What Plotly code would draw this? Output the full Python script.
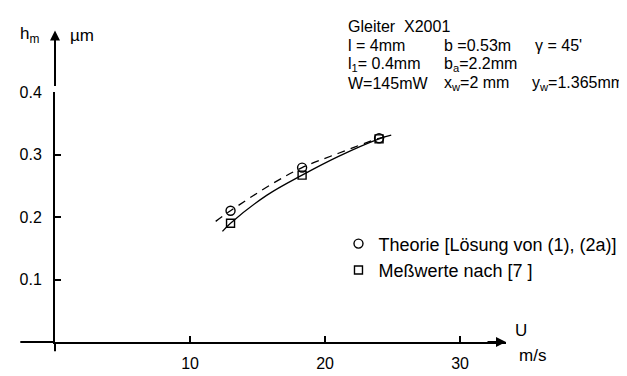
import plotly.graph_objects as go

# ---- data ----
theory_u = [13.0, 18.3, 24.0]
theory_h = [0.210, 0.279, 0.326]
meas_u = [13.0, 18.3, 24.0]
meas_h = [0.190, 0.267, 0.325]

theory_curve_u = [11.9, 13.0, 16.0, 18.3, 21.0, 24.0, 24.6]
theory_curve_h = [0.193, 0.210, 0.252, 0.279, 0.302, 0.326, 0.329]
meas_curve_u = [12.4, 13.0, 15.7, 18.3, 21.0, 24.0, 24.9]
meas_curve_h = [0.177, 0.190, 0.235, 0.267, 0.297, 0.325, 0.331]

x_ticks = [10, 20, 30]
y_ticks = [0.1, 0.2, 0.3, 0.4]

FONT = "Liberation Sans"

# plot-area geometry (pixels) for placing free text
L, R, T, B = 43, 498, 84, 352
W, H = R - L, B - T

def px(x):
    return (x - L) / W

def py(y):
    return (B - y) / H

fig = go.Figure()
fig.add_trace(go.Scatter(x=theory_curve_u, y=theory_curve_h, mode="lines",
                         line=dict(color="black", width=1.3, dash="8px,6px", shape="spline"),
                         showlegend=False, hoverinfo="skip"))
fig.add_trace(go.Scatter(x=meas_curve_u, y=meas_curve_h, mode="lines",
                         line=dict(color="black", width=1.3, shape="spline"),
                         showlegend=False, hoverinfo="skip"))
fig.add_trace(go.Scatter(x=theory_u, y=theory_h, mode="markers",
                         name="Theorie [Lösung von (1), (2a)]",
                         marker=dict(symbol="circle-open", size=9, color="black",
                                     line=dict(width=1.4, color="black"))))
fig.add_trace(go.Scatter(x=meas_u, y=meas_h, mode="markers",
                         name="Meßwerte nach [7 ]",
                         marker=dict(symbol="square-open", size=8, color="black",
                                     line=dict(width=1.4, color="black"))))

fig.update_xaxes(range=[0, 33.4], tickvals=x_ticks, ticktext=[str(v) for v in x_ticks],
                 showline=True, linecolor="black", linewidth=2,
                 ticks="inside", ticklen=6, tickwidth=1.5, tickcolor="black",
                 ticklabelstandoff=6,
                 showgrid=False, zeroline=False, tickfont=dict(family=FONT, size=16, color="black"))
fig.update_yaxes(range=[0, 0.4], tickvals=y_ticks, ticktext=[f"{v:.1f}" for v in y_ticks],
                 showline=True, linecolor="black", linewidth=2,
                 ticks="inside", ticklen=6, tickwidth=1.5, tickcolor="black",
                 ticklabelstandoff=8,
                 showgrid=False, zeroline=False, tickfont=dict(family=FONT, size=16, color="black"))

# axis extensions beyond the origin
fig.add_shape(type="line", xref="paper", yref="paper", x0=px(8), x1=0, y0=0, y1=0,
              line=dict(color="black", width=2))
fig.add_shape(type="line", xref="paper", yref="paper", x0=0, x1=0, y0=py(362), y1=0,
              line=dict(color="black", width=2))

# arrows
fig.add_annotation(xref="paper", yref="paper", x=0, y=py(18), ax=0, ay=57,
                   axref="pixel", ayref="pixel", text="", showarrow=True,
                   arrowhead=2, arrowsize=1, arrowwidth=2, arrowcolor="black")
fig.add_annotation(xref="paper", yref="paper", x=1, y=0, ax=-20, ay=0,
                   text="", showarrow=True,
                   arrowhead=2, arrowsize=1, arrowwidth=2, arrowcolor="black")

def txt(x, y, s, anchor="left", size=16):
    fig.add_annotation(xref="paper", yref="paper", x=px(x), y=py(y), text=s,
                       showarrow=False, xanchor=anchor, yanchor="middle",
                       font=dict(family=FONT, size=size, color="black"))

txt(17, 23, "h<sub>m</sub>", "center", 17)
txt(70, 23, "µm", "center", 17)
txt(513, 340, "U", "center", 17)
txt(525, 367, "m/s", "center", 17)

txt(337, 14, "Gleiter  X2001")
txt(337, 34, "l = 4mm")
txt(433, 34, "b =0.53m")
txt(525, 34, "γ = 45'")
txt(337, 54, "l<sub>1</sub>= 0.4mm")
txt(433, 54, "b<sub>a</sub>=2.2mm")
txt(337, 75, "W=145mW")
txt(433, 75, "x<sub>w</sub>=2 mm")
txt(522, 75, "y<sub>w</sub>=1.365mm")

fig.update_layout(
    width=627, height=376,
    margin=dict(l=L, r=627 - R, t=T, b=376 - B),
    paper_bgcolor="white", plot_bgcolor="white",
    font=dict(family=FONT, size=16, color="black"),
    showlegend=True,
    legend=dict(x=px(329), y=py(227), xanchor="left", yanchor="top",
                bgcolor="rgba(0,0,0,0)", font=dict(family=FONT, size=18, color="black"),
                itemwidth=30, tracegroupgap=0),
)

fig.write_html("out.html")
